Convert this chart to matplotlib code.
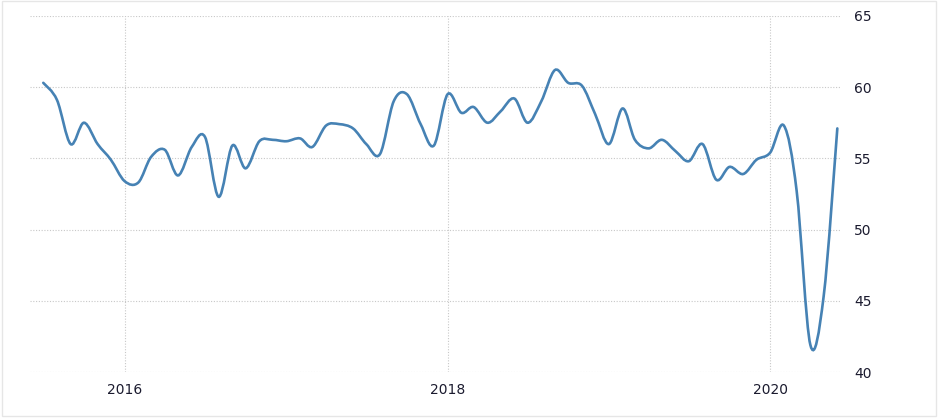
import matplotlib
matplotlib.use("Agg")
import matplotlib.pyplot as plt
import matplotlib.dates as mdates
import matplotlib.patches as patches
from matplotlib.path import Path
import numpy as np
import pandas as pd

# Monthly values, Jul 2015 .. Jun 2020
months = pd.date_range("2015-07-01", "2020-06-01", freq="MS")
values = [
    60.3, 59.1, 56.0, 57.5, 56.0, 54.9,            # 2015 H2
    53.4, 53.3, 55.1, 55.6, 53.8, 55.8,            # 2016 H1
    56.5, 52.3, 55.9, 54.3, 56.2, 56.3,            # 2016 H2
    56.2, 56.4, 55.8, 57.3, 57.4, 57.1,            # 2017 H1
    56.0, 55.3, 59.0, 59.5, 57.4, 55.9,            # 2017 H2
    59.5, 58.2, 58.6, 57.5, 58.3, 59.2,            # 2018 H1
    57.5, 59.0, 61.2, 60.3, 60.1, 58.1,            # 2018 H2
    56.0, 58.5, 56.3, 55.7, 56.3, 55.5,            # 2019 H1
    54.8, 56.0, 53.5, 54.4, 53.9, 54.9,            # 2019 H2
    55.4, 57.3, 52.7, 41.9, 45.3, 57.1,            # 2020 H1
]
year_ticks = ["2016-01-01", "2018-01-01", "2020-01-01"]
year_labels = ["2016", "2018", "2020"]
y_ticks = [40, 45, 50, 55, 60, 65]

LINE = "#4682b4"
TEXT = "#1b1b2f"
GRID = "#c8c8c8"


def smooth_path(xs, ys):
    """Catmull-Rom through the points, as cubic bezier segments."""
    pts = np.column_stack([xs, ys])
    ext = np.vstack([pts[0], pts, pts[-1]])
    verts = [pts[0]]
    codes = [Path.MOVETO]
    for i in range(1, len(ext) - 2):
        p0, p1, p2, p3 = ext[i - 1], ext[i], ext[i + 1], ext[i + 2]
        verts += [p1 + (p2 - p0) / 6, p2 - (p3 - p1) / 6, p2]
        codes += [Path.CURVE4] * 3
    return Path(verts, codes)


fig = plt.figure(figsize=(9.38, 4.18), dpi=100)
ax = fig.add_axes([0.032, 0.110, 0.8635, 0.852])

# faint frame around the picture
fig.patches.append(patches.Rectangle((0.002, 0.004), 0.996, 0.994, transform=fig.transFigure,
                                     fill=False, edgecolor="#e6e6e6", linewidth=1))

xs = mdates.date2num(months)
ax.add_patch(patches.PathPatch(smooth_path(xs, values), fill=False,
                               edgecolor=LINE, linewidth=1.9, capstyle="round", zorder=3))

ax.set_xlim(mdates.datestr2num("2015-06-01"), mdates.datestr2num("2020-06-07"))
ax.set_ylim(40, 65)

ax.set_xticks(mdates.datestr2num(year_ticks))
ax.set_xticklabels(year_labels)
ax.set_yticks(y_ticks)
ax.set_yticklabels([str(v) for v in y_ticks])
ax.yaxis.tick_right()

ax.tick_params(axis="both", length=0, labelsize=10, labelcolor=TEXT)
ax.tick_params(axis="y", pad=10)
ax.tick_params(axis="x", pad=8)

ax.grid(True, which="major", axis="both", linestyle=(0, (1, 1.5)), color=GRID, linewidth=0.8)
ax.set_axisbelow(True)
for s in ax.spines.values():
    s.set_visible(False)

fig.savefig("out.png", dpi=100)
